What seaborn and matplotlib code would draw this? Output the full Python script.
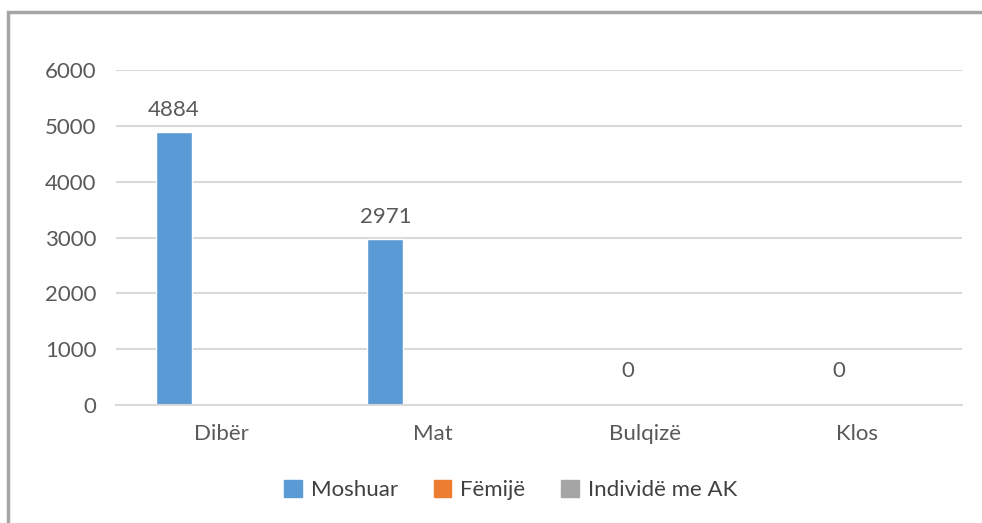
import matplotlib
matplotlib.use("Agg")
import matplotlib.pyplot as plt
import matplotlib.patches as mpatches
import pandas as pd
import seaborn as sns

# data
districts = ["Dibër", "Mat", "Bulqizë", "Klos"]
series = ["Moshuar", "Fëmijë", "Individë me AK"]
moshuar = [4884, 2971, 0, 0]
femije = [0, 0, 0, 0]
individe = [0, 0, 0, 0]
colors = ["#5B9BD5", "#ED7D31", "#A5A5A5"]

df = pd.DataFrame({
    "district": districts * 3,
    "group": [s for s in series for _ in districts],
    "value": moshuar + femije + individe,
})

sns.set_style("white")
plt.rcParams["font.family"] = ["Lato", "DejaVu Sans"]
text_col = "#595959"

fig = plt.figure(figsize=(9.82, 5.23), dpi=100)
ax = fig.add_axes([0.118, 0.2256, 0.862, 0.6405])

sns.barplot(
    data=df, x="district", y="value", hue="group",
    order=districts, hue_order=series, palette=colors,
    width=0.68, gap=0.25, saturation=1, legend=False, ax=ax,
    err_kws={"linewidth": 0},
)

ax.set_xlim(-0.5, len(districts) - 0.5)
ax.set_ylim(0, 6000)
ax.set_yticks(range(0, 6001, 1000))
ax.yaxis.grid(True, color="#D9D9D9", linewidth=1.5)
ax.set_axisbelow(True)
for side in ["top", "right", "left"]:
    ax.spines[side].set_visible(False)
ax.spines["bottom"].set_color("#D9D9D9")
ax.spines["bottom"].set_linewidth(1.5)
ax.tick_params(axis="both", length=0, labelsize=16, labelcolor=text_col)
ax.tick_params(axis="x", pad=14)
ax.tick_params(axis="y", pad=14)
ax.set_xlabel("")
ax.set_ylabel("")

# data labels on the first series
for bar, val in zip(ax.containers[0], moshuar):
    cx = bar.get_x() + bar.get_width() / 2
    dx, dy = (0, 9) if val else (22, 17)
    ax.annotate(f"{val}", (cx, bar.get_height()), xytext=(dx, dy),
                textcoords="offset points", ha="center", va="bottom",
                fontsize=16, color=text_col)

handles = [mpatches.Patch(color=c, label=s) for c, s in zip(colors, series)]
fig.legend(handles=handles, loc="center", bbox_to_anchor=(0.52, 0.063),
           ncol=3, frameon=False, fontsize=16, handlelength=0.8,
           handleheight=0.8, handletextpad=0.4, columnspacing=1.6,
           labelcolor="#404040")

# chart frame (right and bottom edges fall outside the picture)
fig.patches.append(mpatches.Rectangle((0.008, -0.05), 1.1, 1.027,
                                      transform=fig.transFigure, fill=False,
                                      edgecolor="#A6A6A6", linewidth=2.5))

fig.savefig("out.png", dpi=100)
